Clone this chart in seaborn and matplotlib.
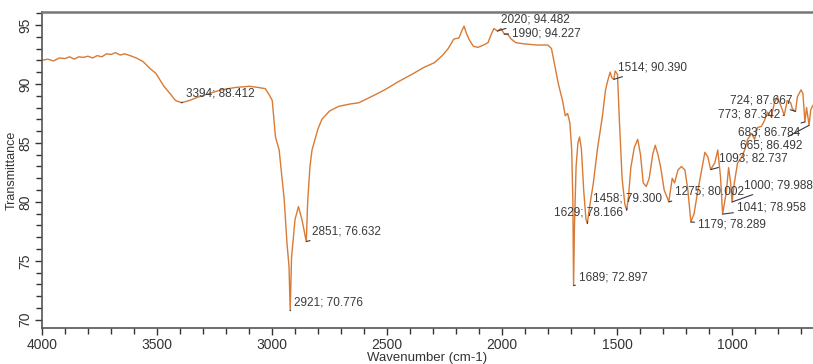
import numpy as np
import pandas as pd
import seaborn as sns
import matplotlib.pyplot as plt
from matplotlib.ticker import MultipleLocator

## Datos del espectro FTIR
wavenumber = [4000, 3975, 3950, 3925, 3900, 3880, 3860, 3840, 3820, 3800, 3780, 3760,
              3740, 3720, 3700, 3680, 3660, 3640, 3617, 3590, 3561, 3530, 3505, 3470,
              3444, 3420, 3394, 3358, 3320, 3271, 3220, 3159, 3098, 3060, 3029, 3010,
              2999, 2985, 2969, 2947, 2935, 2926, 2921, 2915, 2900, 2885, 2870, 2860,
              2851, 2845, 2835, 2826, 2800, 2783, 2750, 2710, 2660, 2623, 2560, 2510,
              2450, 2393, 2340, 2294, 2260, 2234, 2210, 2187, 2175, 2165, 2155, 2144,
              2125, 2105, 2080, 2061, 2045, 2035, 2020, 2005, 1990, 1975, 1960, 1940,
              1905, 1850, 1801, 1785, 1775, 1765, 1755, 1745, 1737, 1725, 1715, 1705,
              1697, 1692, 1689, 1685, 1678, 1670, 1663, 1655, 1645, 1635, 1629, 1620,
              1603, 1585, 1564, 1550, 1540, 1530, 1522, 1514, 1508, 1498, 1490, 1478,
              1466, 1458, 1450, 1440, 1425, 1410, 1398, 1386, 1373, 1360, 1345, 1334,
              1322, 1310, 1295, 1285, 1275, 1260, 1250, 1235, 1220, 1205, 1192, 1179,
              1165, 1150, 1132, 1118, 1105, 1093, 1075, 1062, 1050, 1041, 1025, 1015,
              1006, 1000, 990, 976, 958, 945, 932, 915, 902, 889, 872, 859,
              846, 829, 816, 803, 785, 773, 760, 745, 738, 724, 716, 700,
              692, 683, 676, 665, 658, 648]
transmittance = [92.0, 92.1, 91.95, 92.2, 92.15, 92.3, 92.1, 92.3, 92.25, 92.35, 92.2, 92.4,
                 92.3, 92.55, 92.5, 92.65, 92.45, 92.55, 92.4, 92.2, 91.9, 91.3, 90.9, 89.8,
                 89.2, 88.6, 88.41, 88.6, 88.9, 89.2, 89.5, 89.7, 89.8, 89.7, 89.6, 89.0,
                 88.6, 85.5, 84.4, 80.2, 76.5, 74.5, 70.78, 75.3, 78.5, 79.6, 78.5, 77.5,
                 76.63, 80.0, 83.0, 84.4, 86.2, 87.0, 87.7, 88.1, 88.3, 88.4, 89.0, 89.5,
                 90.2, 90.8, 91.4, 91.8, 92.4, 93.0, 93.8, 93.9, 94.5, 94.9, 94.3, 93.8,
                 93.2, 93.1, 93.3, 93.5, 94.3, 94.7, 94.48, 94.7, 94.23, 94.2, 93.8, 93.5,
                 93.4, 93.3, 93.3, 93.0, 92.0, 91.0, 90.0, 89.2, 88.6, 87.3, 87.5, 86.7,
                 84.4, 80.0, 72.9, 78.0, 83.0, 85.0, 85.5, 84.5, 81.0, 78.5, 78.17, 79.5,
                 81.6, 84.5, 87.2, 89.5, 90.3, 91.0, 90.5, 90.39, 91.1, 90.8, 87.0, 82.0,
                 79.8, 79.3, 80.5, 82.9, 84.6, 85.3, 84.0, 81.6, 81.3, 82.0, 84.0, 84.8,
                 84.0, 82.9, 81.0, 80.5, 80.0, 82.0, 81.6, 82.7, 83.0, 82.7, 81.0, 78.29,
                 79.0, 80.8, 82.7, 84.2, 83.8, 82.74, 83.3, 84.4, 82.1, 78.96, 80.8, 82.9,
                 81.6, 79.99, 81.6, 83.3, 83.8, 84.4, 85.3, 85.8, 85.3, 86.3, 86.4, 86.9,
                 87.6, 87.2, 88.4, 88.9, 88.0, 87.34, 88.6, 88.4, 87.9, 87.67, 88.9, 89.5,
                 89.2, 86.78, 88.0, 86.49, 87.8, 88.2]

## Picos anotados: (número de onda, transmitancia) y posición del texto
peak_wn = [3394, 2921, 2851, 2020, 1990, 1514, 1458, 1629, 1689, 1275, 1179, 1041, 1000, 1093, 665, 683, 773, 724]
peak_t = [88.412, 70.776, 76.632, 94.482, 94.227, 90.390, 79.300, 78.166, 72.897, 80.002,
          78.289, 78.958, 79.988, 82.737, 86.492, 86.784, 87.342, 87.667]
text_wn = [3375, 2905, 2826, 2005, 1957, 1494, 1603, 1775, 1667, 1248, 1149, 980, 946, 1057, 967, 972, 1063, 1008]
text_t = [89.2, 71.5, 77.5, 95.5, 94.3, 91.4, 80.25, 79.1, 73.6, 80.85, 78.1, 79.5, 81.4, 83.7, 84.75, 85.9, 87.4, 88.6]

df = pd.DataFrame({'wn': wavenumber, 't': transmittance})

sns.set_style("ticks")
plt.rcParams['font.family'] = ['Liberation Sans', 'DejaVu Sans']

fig = plt.figure(figsize=(8.13, 3.64), dpi=100)
ax = fig.add_axes([42 / 813, 1 - 328 / 364, 1 - 42 / 813, (328 - 12) / 364])

sns.lineplot(data=df, x='wn', y='t', ax=ax, sort=False, estimator=None,
             color='#D97A35', linewidth=1.0)

for w, t, tw, tt in zip(peak_wn, peak_t, text_wn, text_t):
    ax.annotate(f"{w}; {t:.3f}", xy=(w, t), xytext=(tw, tt),
                fontsize=8.5, color='#3a3a3a', ha='left', va='center',
                arrowprops=dict(arrowstyle='-', color='#2f3a4a', lw=0.8,
                                shrinkA=0, shrinkB=0))

ax.set_xlim(4000, 648)
ax.set_ylim(69.3, 96.1)
ax.xaxis.set_major_locator(MultipleLocator(500))
ax.xaxis.set_minor_locator(MultipleLocator(100))
ax.yaxis.set_major_locator(MultipleLocator(5))
ax.yaxis.set_minor_locator(MultipleLocator(1))
ax.tick_params(which='both', direction='out', color='#333333', width=1.0,
               labelsize=10, labelcolor='#333333', pad=2)
ax.tick_params(which='major', length=5)
ax.tick_params(which='minor', length=4.5)
for lab in ax.get_yticklabels():
    lab.set_rotation(90)
    lab.set_va('center')

ax.set_xlabel('Wavenumber (cm-1)', fontsize=9.5, color='#333333', labelpad=0)
ax.set_ylabel('Transmittance', fontsize=9, color='#333333')
ax.yaxis.set_label_coords(-0.031, 0.5)

for s in ['left', 'bottom']:
    ax.spines[s].set_color('#555555')
    ax.spines[s].set_linewidth(1.2)
ax.spines['top'].set_color('#777777')
ax.spines['top'].set_linewidth(1.8)
ax.spines['right'].set_visible(False)

plt.savefig('out.png', dpi=100)
